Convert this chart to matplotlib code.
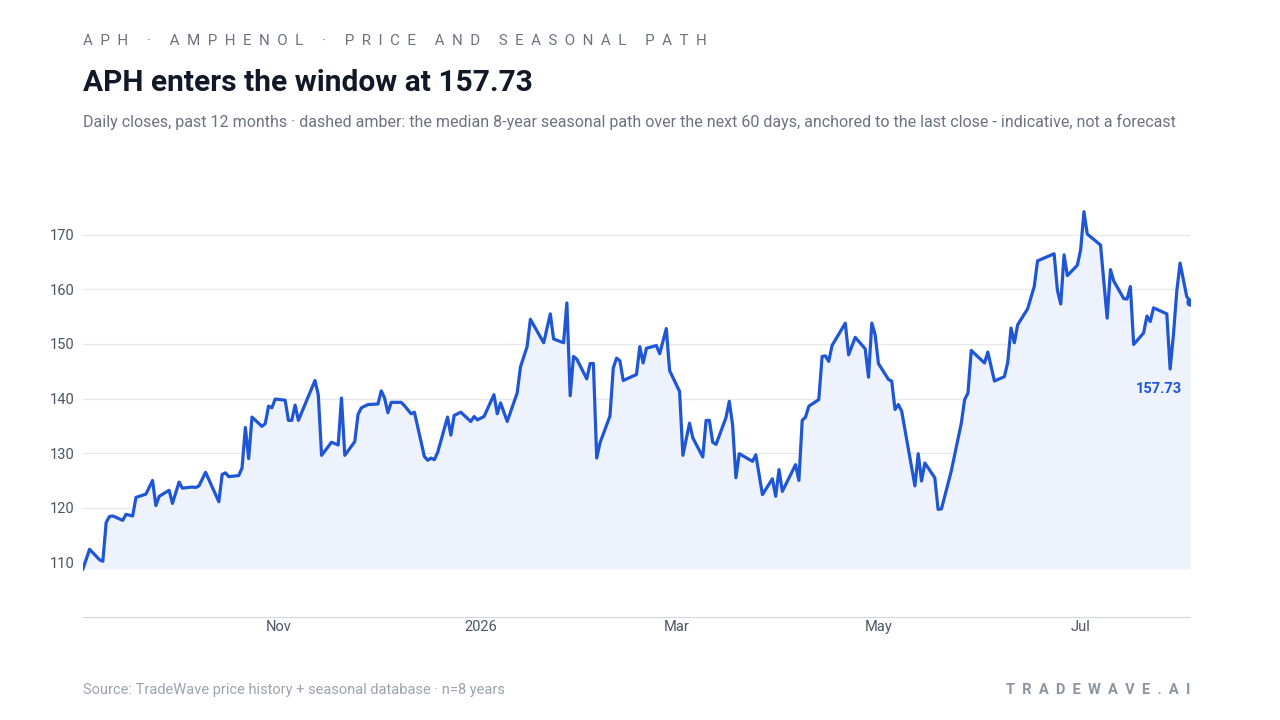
import matplotlib
matplotlib.use('Agg')
import matplotlib.pyplot as plt
import matplotlib.dates as mdates
import numpy as np
import pandas as pd

plt.rcParams['font.family'] = ['Roboto', 'DejaVu Sans']

# daily closes (days counted from the first close)
start_date = '2025-09-03'
day_offsets = [
    0, 2, 5, 6, 7, 8, 9, 12, 13, 15, 16, 19, 21, 22, 23, 26, 27, 29, 30, 33,
    34, 35, 37, 41, 42, 43, 44, 47, 48, 49, 50, 51, 54, 55, 56, 57, 58, 61, 62, 63,
    64, 65, 70, 71, 72, 75, 77, 78, 79, 82, 83, 84, 86, 89, 90, 91, 92, 93, 96, 97,
    99, 100, 103, 104, 105, 106, 107, 110, 111, 112, 114, 117, 118, 119, 121, 124, 125, 126, 128, 131,
    132, 134, 135, 139, 141, 142, 145, 146, 147, 148, 149, 152, 153, 154, 155, 156, 159, 160, 161, 162,
    163, 167, 168, 169, 170, 173, 174, 176, 177, 180, 181, 183, 184, 187, 188, 189, 190, 191, 194, 195,
    196, 197, 198, 202, 203, 205, 208, 209, 210, 211, 215, 216, 217, 218, 219, 222, 223, 224, 225, 226,
    230, 231, 233, 236, 237, 238, 239, 240, 243, 244, 245, 246, 247, 251, 252, 253, 254, 257, 258, 259,
    260, 262, 265, 266, 267, 268, 272, 273, 275, 278, 279, 280, 281, 282, 285, 287, 288, 293, 294, 295,
    296, 297, 300, 301, 302, 303, 307, 309, 310, 311, 314, 315, 316, 317, 320, 321, 322, 323, 327, 328,
    329, 330, 331, 333, 334,
]
closes = [
    108.8, 112.4, 110.5, 110.2, 117.3, 118.4, 118.5, 117.7, 118.8, 118.5, 121.9, 122.5, 125.0, 120.4, 122.1, 123.2, 120.8, 124.7, 123.6, 123.8,
    123.7, 124.0, 126.5, 121.1, 126.1, 126.4, 125.7, 125.9, 127.3, 134.7, 129.0, 136.6, 134.9, 135.4, 138.6, 138.3, 139.9, 139.7, 136.0, 136.0,
    138.8, 136.0, 143.3, 140.7, 129.6, 132.0, 131.5, 140.1, 129.6, 132.1, 137.1, 138.3, 138.9, 139.0, 141.4, 140.1, 137.4, 139.3, 139.3, 138.7,
    137.2, 137.5, 129.4, 128.7, 129.1, 128.8, 130.1, 136.6, 133.3, 136.9, 137.5, 135.8, 136.7, 136.1, 136.7, 140.7, 137.2, 139.2, 135.8, 141.0,
    145.8, 149.5, 154.5, 150.2, 155.5, 150.9, 150.2, 157.5, 140.5, 147.7, 147.2, 143.6, 146.4, 146.4, 129.1, 131.9, 136.8, 145.6, 147.4, 146.9,
    143.3, 144.4, 149.5, 146.5, 149.2, 149.7, 148.2, 152.8, 145.1, 141.3, 129.6, 135.5, 132.8, 129.3, 136.0, 136.0, 132.0, 131.6, 136.5, 139.5,
    135.2, 125.5, 129.9, 128.5, 129.7, 122.4, 125.3, 122.1, 127.0, 123.0, 127.9, 125.0, 136.0, 136.6, 138.6, 139.8, 147.7, 147.8, 146.8, 149.7,
    153.8, 148.0, 151.2, 149.1, 143.9, 153.8, 151.7, 146.4, 143.5, 143.2, 138.0, 138.9, 137.7, 124.0, 129.9, 124.9, 128.2, 125.5, 119.7, 119.8,
    122.1, 126.8, 135.5, 139.8, 141.0, 148.8, 146.5, 148.5, 143.2, 144.0, 146.6, 152.9, 150.2, 153.5, 156.4, 160.5, 165.2, 166.5, 159.8, 157.3,
    166.3, 162.5, 164.4, 167.2, 174.2, 170.1, 168.1, 154.7, 163.6, 161.5, 158.3, 158.2, 160.5, 149.9, 152.0, 155.1, 154.1, 156.6, 155.5, 145.4,
    151.7, 159.6, 164.8, 158.7, 157.73,
]
y_ticks = [110, 120, 130, 140, 150, 160, 170]
last_label = '157.73'

dates = pd.Timestamp(start_date) + pd.to_timedelta(day_offsets, unit='D')
closes = np.array(closes)

line_c = '#1f56d6'
grid_c = '#e6e8ee'

fig = plt.figure(figsize=(12.8, 7.2), dpi=100)
ax = fig.add_axes([0.0648, 0.143, 0.8649, 0.607])

ax.fill_between(dates, closes, closes.min(), color='#eef2fc', lw=0, zorder=1)
ax.plot(dates, closes, color=line_c, lw=2.3, solid_joinstyle='round', zorder=3)
ax.plot(dates[-1], closes[-1], 'o', color=line_c, ms=5, zorder=4)
ax.text(dates[-1] - pd.Timedelta(days=9.5), 141.8, last_label, color=line_c,
        fontsize=10.5, fontweight='bold', ha='center', va='center')

ax.set_xlim(dates[0], dates[-1])
ax.set_ylim(100, 180)
ax.set_yticks(y_ticks)
ax.xaxis.set_major_locator(mdates.MonthLocator(bymonth=[1, 3, 5, 7, 11]))
ax.xaxis.set_major_formatter(mdates.ConciseDateFormatter(ax.xaxis.get_major_locator()))
ax.grid(axis='y', color=grid_c, lw=1)
ax.set_axisbelow(True)
for s in ['top', 'right', 'left']:
    ax.spines[s].set_visible(False)
ax.spines['bottom'].set_color('#d4d7de')
ax.tick_params(axis='both', length=0, labelsize=10.5, colors='#4b5563')
ax.tick_params(axis='x', pad=2)
ax.tick_params(axis='y', pad=6)

# header
over = '     ·     '.join('  '.join(w) for w in ['APH', 'AMPHENOL', 'PRICE AND SEASONAL PATH'])
fig.text(0.0648, 0.943, over.replace('      ', '     '), fontsize=10.9, color='#6b7280', va='center')
fig.text(0.0648, 0.885, 'APH enters the window at 157.73', fontsize=21.5, fontweight='bold',
         color='#111827', va='center')
fig.text(0.0648, 0.831, 'Daily closes, past 12 months · dashed amber: the median 8-year seasonal path over the next 60 days, '
         'anchored to the last close - indicative, not a forecast', fontsize=11.55, color='#6b7280', va='center')

# footer
fig.text(0.0648, 0.042, 'Source: TradeWave price history + seasonal database · n=8 years', fontsize=10.5,
         color='#9ca3af', va='center')
fig.text(0.9297, 0.042, '  '.join('TRADEWAVE.AI'), fontsize=10.5, fontweight='bold', color='#8b93a1',
         va='center', ha='right')

fig.savefig('out.png', dpi=100)
